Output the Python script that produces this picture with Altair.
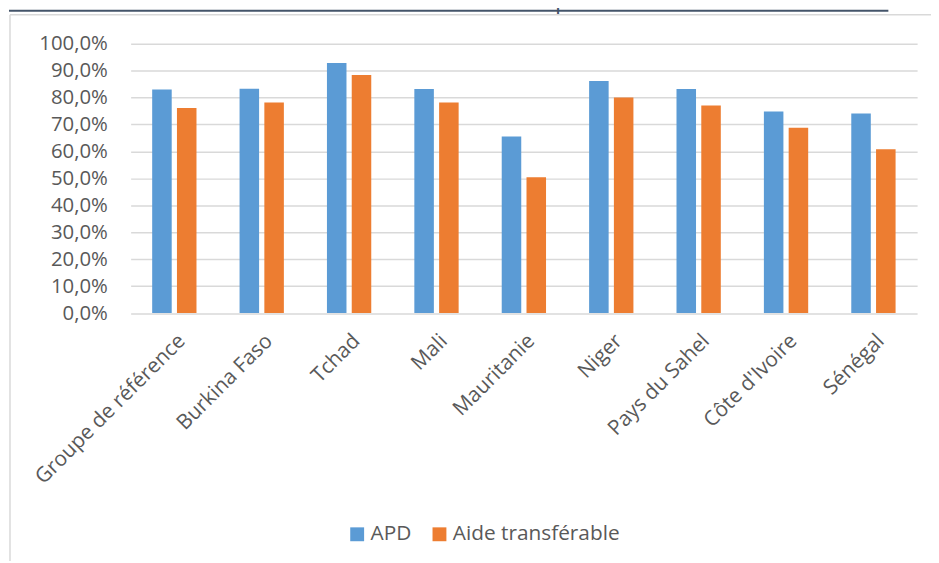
import altair as alt
import pandas as pd

categories = ["Groupe de référence", "Burkina Faso", "Tchad", "Mali", "Mauritanie",
              "Niger", "Pays du Sahel", "Côte d'Ivoire", "Sénégal"]
series = ["APD", "Aide transférable"]
apd = [83.0, 83.3, 92.9, 83.2, 65.6, 86.2, 83.2, 74.9, 74.1]
aide = [76.2, 78.2, 88.4, 78.2, 50.4, 80.1, 77.1, 68.8, 60.8]
colors = ["#5B9BD5", "#ED7D31"]
y_ticks = [i / 10 for i in range(11)]
title_text = "dons dans l'APD et dans l'aide transférable sur la période 2000-2018"

rows = []
for c, a, t in zip(categories, apd, aide):
    rows.append({"cat": c, "series": series[0], "value": a / 100})
    rows.append({"cat": c, "series": series[1], "value": t / 100})
df = pd.DataFrame(rows)

FONT = "Open Sans"
W, H = 793.3, 271.6
PL, PT = 123.7, 33.7

bars = alt.Chart(df).mark_bar().encode(
    x=alt.X("cat:N", sort=categories,
            scale=alt.Scale(paddingInner=0.493, paddingOuter=0.2465),
            axis=alt.Axis(title=None, labelAngle=-45, labelAlign="right",
                          labelBaseline="top", labelPadding=17, ticks=False,
                          tickSize=0, domain=False, labelFont=FONT,
                          labelFontSize=21, labelColor="#595959",
                          labelLimit=400)),
    xOffset=alt.XOffset("series:N", sort=series,
                        scale=alt.Scale(paddingInner=0.212, paddingOuter=0)),
    y=alt.Y("value:Q", scale=alt.Scale(domain=[0, 1], nice=False),
            axis=alt.Axis(title=None, values=y_ticks, domain=False, ticks=False,
                          tickSize=0, labelPadding=23.5, grid=True,
                          gridColor="#D9D9D9", gridWidth=1.5,
                          labelFont=FONT, labelFontSize=20.5, labelColor="#595959",
                          labelExpr="replace(format(datum.value, '.1%'), '.', ',')")),
    color=alt.Color("series:N", sort=series,
                    scale=alt.Scale(domain=series, range=colors),
                    legend=alt.Legend(orient="none", legendX=218, legendY=484,
                                      direction="horizontal", title=None,
                                      symbolType="square", symbolSize=196,
                                      symbolStrokeWidth=0, labelFont=FONT,
                                      labelFontSize=21, labelColor="#595959",
                                      columnPadding=17, labelOffset=3,
                                      labelLimit=400)),
)

one = pd.DataFrame({"k": [0]})
border_top = alt.Chart(one).mark_rule(color="#D9D9D9", strokeWidth=1.5).encode(
    x=alt.value(-121.7), x2=alt.value(W + 14), y=alt.value(-29.2))
border_left = alt.Chart(one).mark_rule(color="#D9D9D9", strokeWidth=1.5).encode(
    x=alt.value(-121.7), y=alt.value(-29.2), y2=alt.value(H + 250))
underline = alt.Chart(one).mark_rule(color="#44546A", strokeWidth=2).encode(
    x=alt.value(-122.7), x2=alt.value(764.3), y=alt.value(-33.4))
title = alt.Chart(pd.DataFrame({"t": [title_text]})).mark_text(
    align="left", baseline="alphabetic", font=FONT, fontSize=24, color="#44546A"
).encode(x=alt.value(-122.7), y=alt.value(-35.7), text="t:N")

chart = alt.layer(bars, border_top, border_left, underline, title).properties(
    width=W, height=H,
    autosize=alt.AutoSizeParams(type="none"),
    padding={"left": PL, "top": PT, "right": 14, "bottom": 249.7},
).configure_view(stroke=None)

chart.save("out.html", embed_options={"renderer": "svg", "actions": False})
